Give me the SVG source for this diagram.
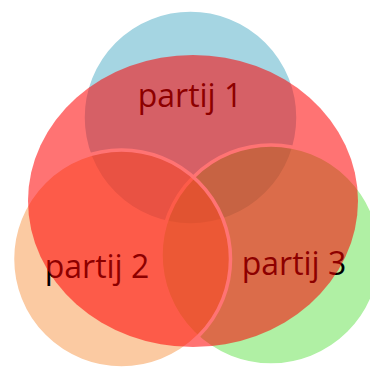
<svg xmlns="http://www.w3.org/2000/svg" width="370" height="367" viewBox="0 0 370 367">
<style>
.c{stroke:#fff;stroke-width:3.5;fill-opacity:0.5}
.t{font-family:"Open Sans","Liberation Sans",sans-serif;font-size:32px;fill:#000;text-anchor:middle}
</style>
<rect width="370" height="367" fill="#fff"/>
<g id="partij1"><circle class="c" cx="190.5" cy="117.5" r="107.5" fill="#4BACC6"/></g>
<g id="partij3"><circle class="c" cx="271" cy="255" r="110" fill="#61E149"/></g>
<g id="partij2"><circle class="c" cx="121.5" cy="259" r="109" fill="#F79646"/></g>
<g id="labels">
<text class="t" x="190" y="107">partij 1</text>
<text class="t" x="97" y="278">partij 2</text>
<text class="t" x="294" y="275">partij 3</text>
</g>
<g id="overlay"><ellipse cx="193" cy="201" rx="165" ry="146" fill="#FF0000" fill-opacity="0.55"/></g>
</svg>
